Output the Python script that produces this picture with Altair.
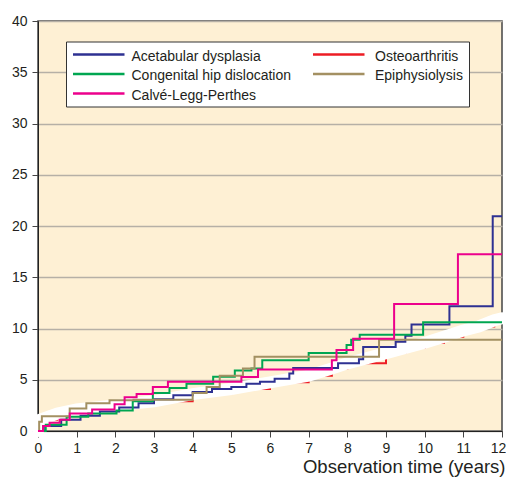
import altair as alt
import pandas as pd

series_names = ["Acetabular dysplasia", "Osteoarthritis", "Congenital hip dislocation",
                "Epiphysiolysis", "Calvé-Legg-Perthes"]
series_colors = ["#2e3192", "#ed1c24", "#00a651", "#a39062", "#ec008c"]

# legend order as in the reference (column-wise)
legend_order = ["Acetabular dysplasia", "Congenital hip dislocation", "Calvé-Legg-Perthes",
                "Osteoarthritis", "Epiphysiolysis"]

x_ticks = list(range(0, 13))
y_ticks = list(range(0, 41, 5))

acet_t = [0, 0.15, 0.6, 1.1, 1.6, 2.1, 2.6, 3.0, 3.5, 4.0, 4.5, 5.0, 5.39, 5.74, 6.12, 6.5,
          6.6, 7.76, 8.3, 8.41, 9.25, 9.5, 9.66, 10.64, 11.76, 12.0]
acet_v = [0, 0.5, 1.1, 1.5, 1.9, 2.3, 2.7, 3.1, 3.5, 3.8, 4.1, 4.3, 4.6, 4.8, 5.1, 5.6,
          6.15, 6.6, 7.0, 8.2, 8.7, 9.3, 10.4, 12.16, 20.95, 20.95]

osteo_t = [0, 0.05, 0.5, 1, 2, 3, 4, 5, 6, 7, 7.6, 8, 9, 9.5, 10, 10.5, 11, 11.4, 11.8, 12]
osteo_v = [0, 1.1, 1.7, 2.1, 2.5, 2.9, 3.6, 4.1, 4.75, 5.4, 6.1, 6.6, 7.6, 8.1, 8.6, 9.2,
           9.8, 10.2, 10.8, 11.0]

cong_t = [0, 0.2, 0.74, 1.3, 2.03, 2.45, 2.97, 3.4, 3.84, 4.53, 5.09, 5.52, 5.8, 7.0, 7.98,
          8.1, 8.32, 9.96, 12.0]
cong_v = [0, 0.6, 1.4, 1.7, 2.0, 2.9, 3.7, 4.2, 4.6, 5.3, 5.9, 6.1, 6.9, 7.6, 8.4, 8.9, 9.4,
          10.6, 10.6]

epi_t = [0, 0.03, 0.1, 0.82, 1.25, 1.85, 2.47, 4.0, 4.36, 4.7, 5.3, 5.6, 8.82, 12.0]
epi_v = [0, 0.9, 1.45, 2.2, 2.7, 3.0, 3.05, 3.7, 4.3, 5.4, 6.1, 7.25, 8.9, 8.9]

clp_t = [0, 0.13, 0.3, 0.56, 0.82, 1.4, 1.98, 2.24, 2.55, 2.97, 3.36, 5.26, 5.69, 7.6, 7.72,
         8.15, 9.21, 10.86, 12.0]
clp_v = [0, 0.5, 0.8, 1.1, 1.7, 2.1, 2.6, 3.3, 3.6, 4.3, 4.8, 5.27, 6.0, 6.9, 7.9, 9.0, 12.4,
         17.24, 17.24]

rows = []
for name, ts, vs in [
    ("Acetabular dysplasia", acet_t, acet_v),
    ("Osteoarthritis", osteo_t, osteo_v),
    ("Congenital hip dislocation", cong_t, cong_v),
    ("Epiphysiolysis", epi_t, epi_v),
    ("Calvé-Legg-Perthes", clp_t, clp_v),
]:
    for t, v in zip(ts, vs):
        rows.append({"series": name, "time": t, "value": v})
df = pd.DataFrame(rows)

FONT = "Liberation Sans"
TXT = "#231f20"

color = alt.Color("series:N", scale=alt.Scale(domain=series_names, range=series_colors),
                  legend=None)

x = alt.X(
    "time:Q",
    scale=alt.Scale(domain=[0, 12], nice=False),
    axis=alt.Axis(
        values=x_ticks, grid=False, title="Observation time (years)",
        titleFontSize=18.5, titleFont=FONT, titleFontWeight="normal",
        titleColor=TXT, titleAnchor="end", titleAlign="right",
        titleX=467, titleY=41.5, titleBaseline="alphabetic",
        labelFontSize=14, labelFont=FONT, labelColor=TXT,
        labelOffset={"condition": {"test": "datum.value == 12", "value": -4}, "value": 0},
        tickSize=6, labelPadding=4, tickColor="#444444", domainColor="#222222",
        labelFlush=False,
    ),
)
y = alt.Y(
    "value:Q",
    scale=alt.Scale(domain=[0, 40], nice=False),
    axis=alt.Axis(
        values=y_ticks, grid=True, gridColor="#b6b0a6", gridWidth=1.5, title=None,
        labelFontSize=14, labelFont=FONT, labelColor=TXT,
        tickSize=6, labelPadding=5, tickColor="#444444", domainColor="#222222",
    ),
)

base = alt.Chart(df)
red = base.transform_filter(alt.datum.series == "Osteoarthritis").mark_line(
    interpolate="step-after", strokeWidth=2
).encode(x=x, y=y, color=color)
band = base.transform_filter(alt.datum.series == "Osteoarthritis").mark_line(
    color="white", strokeWidth=12, strokeCap="round"
).encode(x=x, y=y)
others = base.transform_filter(alt.datum.series != "Osteoarthritis").mark_line(
    interpolate="step-after", strokeWidth=2
).encode(x=x, y=y, color=color, detail="series:N")

# manual legend box (pixel positions inside the plot area)
one = pd.DataFrame({"k": [0]})
legend_layers = [
    alt.Chart(one).mark_rect(fill="white", stroke="#333333", strokeWidth=1).encode(
        x=alt.value(28.5), x2=alt.value(431.5), y=alt.value(21), y2=alt.value(86))
]
col_x = [35, 275]
row_y = [33.5, 53, 72.5]
for i, name in enumerate(legend_order):
    c = series_colors[series_names.index(name)]
    cx = col_x[i // 3]
    ry = row_y[i % 3]
    legend_layers.append(
        alt.Chart(one).mark_rule(color=c, strokeWidth=2.5).encode(
            x=alt.value(cx), x2=alt.value(cx + 51.5), y=alt.value(ry))
    )
    legend_layers.append(
        alt.Chart(one).mark_text(text=name, align="left", baseline="alphabetic",
                                 fontSize=14, font=FONT, color=TXT).encode(
            x=alt.value(cx + 58.5 if i < 3 else cx + 62), y=alt.value(ry + 6))
    )

chart = alt.layer(red, band, others, *legend_layers).properties(
    width=464, height=410,
    autosize=alt.AutoSizeParams(type="none"),
    padding={"left": 30, "top": 13, "right": 4, "bottom": 52},
    background="white",
).configure_view(fill="#fef0d4", stroke="#444444", strokeWidth=1.5)

chart.save("out.html", embed_options={"renderer": "svg", "actions": False})
